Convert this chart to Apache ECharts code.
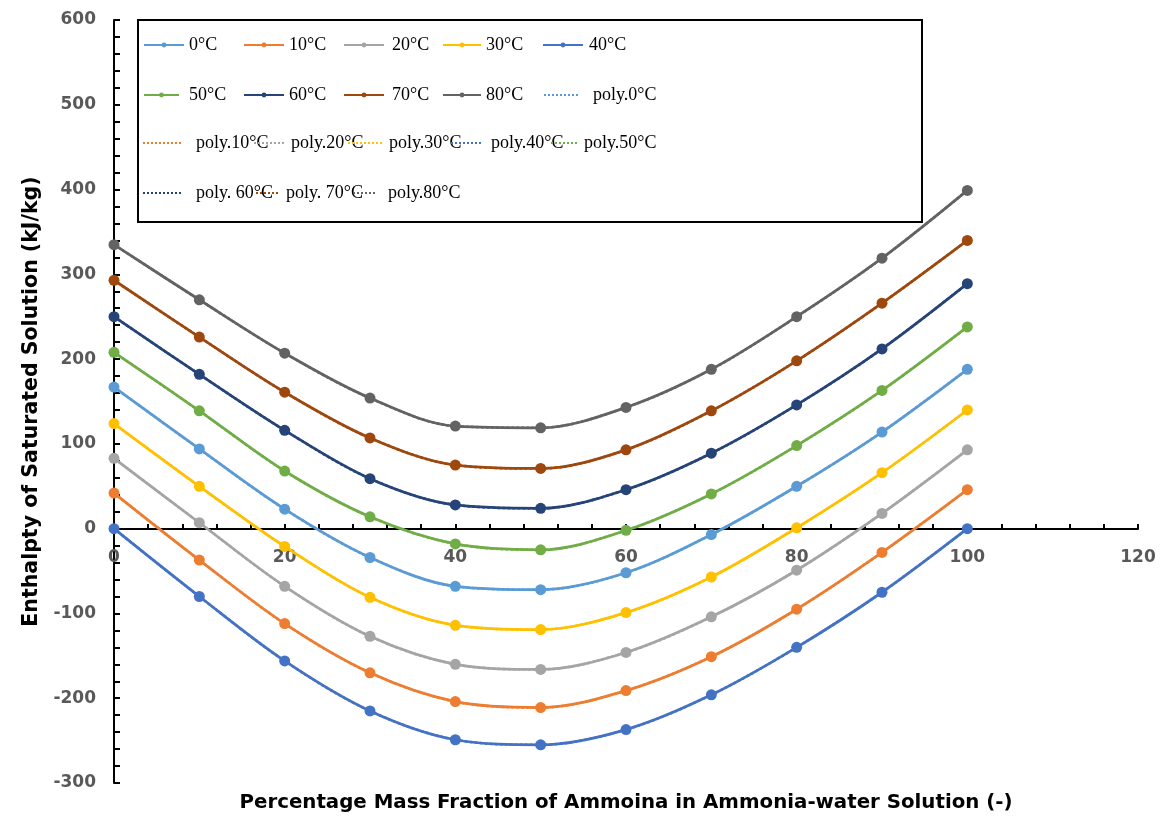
<!DOCTYPE html>
<html>
<head>
<meta charset="utf-8">
<script src="https://cdn.jsdelivr.net/npm/echarts@6/dist/echarts.min.js"></script>
<style>
html,body{margin:0;padding:0;background:#fff;}
#chart{width:1161px;height:818px;}
</style>
</head>
<body>
<div id="chart"></div>
<script>
// ---- data ----
const massFraction = [0, 10, 20, 30, 40, 50, 60, 70, 80, 90, 100];
const seriesNames = ['0°C', '10°C', '20°C', '30°C', '40°C', '50°C', '60°C', '70°C', '80°C'];
const polyNames = ['poly.0°C', 'poly.10°C', 'poly.20°C', 'poly.30°C', 'poly.40°C', 'poly.50°C', 'poly. 60°C', 'poly. 70°C', 'poly.80°C'];
const h0  = [167, 94, 23, -34, -68, -72, -52, -7, 50, 114, 188];
const h10 = [42, -37, -112, -170, -204, -211, -191, -151, -95, -28, 46];
const h20 = [83, 7, -68, -127, -160, -166, -146, -104, -49, 18, 93];
const h30 = [124, 50, -21, -81, -114, -119, -99, -57, 1, 66, 140];
const h40 = [0, -80, -156, -215, -249, -255, -237, -196, -140, -75, 0];
const h50 = [208, 139, 68, 14, -18, -25, -2, 41, 98, 163, 238];
const h60 = [250, 182, 116, 59, 28, 24, 46, 89, 146, 212, 289];
const h70 = [293, 226, 161, 107, 75, 71, 93, 139, 198, 266, 340];
const h80 = [335, 270, 207, 154, 121, 119, 143, 188, 250, 319, 399];
const allValues = [h0, h10, h20, h30, h40, h50, h60, h70, h80];
const xTicks = [0, 20, 40, 60, 80, 100, 120];
const yTicks = [-300, -200, -100, 0, 100, 200, 300, 400, 500, 600];

// ---- styles ----
const colors = ['#5B9BD5', '#ED7D31', '#A5A5A5', '#FFC000', '#4472C4', '#70AD47', '#264478', '#9E480E', '#636363'];

// legend layout: [left, centerY, iconWidth, textLeft]
const legendLayout = [
  [143, 45, 40, 188], [243, 45, 40, 288], [343, 45, 40, 391], [442, 45, 38, 485], [542, 45, 40, 588],
  [143, 95, 35, 188], [243, 95, 40, 288], [343, 95, 40, 391], [442, 95, 38, 485], [543, 95, 36, 592],
  [142, 143, 40, 195], [253, 143, 30, 290], [347, 143, 35, 388], [450, 143, 30, 490], [550, 143, 28, 583],
  [142, 193, 40, 195], [255, 193, 22, 285], [352, 193, 23, 387]
];
const legendNames = seriesNames.concat(polyNames);

const pairs = v => massFraction.map((x, i) => [x, v[i]]);

const series = [];
seriesNames.forEach((n, i) => {
  series.push({
    name: n, type: 'line', data: pairs(allValues[i]), smooth: 0.33,
    symbol: 'circle', symbolSize: 11, color: colors[i],
    lineStyle: { width: 2.75, color: colors[i] },
    itemStyle: { color: colors[i] }, z: 2
  });
});
polyNames.forEach((n, i) => {
  series.push({
    name: n, type: 'line', data: pairs(allValues[i]), smooth: 0.33,
    symbol: 'none', showSymbol: false, color: colors[i],
    lineStyle: { width: 2.5, type: 'dotted', color: colors[i] },
    itemStyle: { color: colors[i] }, z: 3
  });
});

const legends = legendNames.map((n, i) => {
  const L = legendLayout[i];
  const isPoly = i >= seriesNames.length;
  const lg = {
    data: [n], left: L[0], top: L[1] - 10, itemWidth: L[2], itemHeight: 6, itemGap: 0,
    selectedMode: false, padding: 0,
    textStyle: { fontFamily: 'Liberation Serif', fontSize: 18, color: '#000', lineHeight: 20,
                 padding: [0, 0, 0, Math.max(0, L[3] - (L[0] + L[2] + 5))] }
  };
  if (isPoly) lg.itemStyle = { opacity: 0 };
  return lg;
});

const labelFont = { fontFamily: 'DejaVu Sans', fontWeight: 'bold', fontSize: 17, color: '#595959' };
const xNameFont = { fontFamily: 'DejaVu Sans', fontWeight: 'bold', fontSize: 19.8, color: '#000' };
const yNameFont = { fontFamily: 'DejaVu Sans', fontWeight: 'bold', fontSize: 20.5, color: '#000' };

const chart = echarts.init(document.getElementById('chart'), null, { renderer: 'canvas' });
chart.setOption({
  animation: false,
  backgroundColor: '#fff',
  grid: { left: 114, right: 23, top: 20, bottom: 35, containLabel: false, outerBoundsMode: 'none' },
  legend: legends,
  graphic: [{
    type: 'rect', shape: { x: 138, y: 20, width: 784, height: 202 },
    style: { fill: 'rgba(0,0,0,0)', stroke: '#000', lineWidth: 2 }, z: 10
  }],
  xAxis: {
    type: 'value', min: xTicks[0], max: xTicks[xTicks.length - 1], interval: 20,
    offset: -254,
    name: 'Percentage Mass Fraction of Ammoina in Ammonia-water Solution (-)',
    nameLocation: 'middle', nameGap: 264, nameTextStyle: xNameFont,
    axisLine: { onZero: false, lineStyle: { color: '#000', width: 2 } },
    axisTick: { inside: true, length: 5, lineStyle: { color: '#000', width: 2 } },
    minorTick: { show: true, splitNumber: 5, length: 5, lineStyle: { color: '#000', width: 2 } },
    axisLabel: Object.assign({ margin: 20 }, labelFont),
    splitLine: { show: false }
  },
  yAxis: {
    type: 'value', min: yTicks[0], max: yTicks[yTicks.length - 1], interval: 100,
    name: 'Enthalpty of Saturated Solution (kJ/kg)',
    nameLocation: 'middle', nameGap: 70, nameTextStyle: yNameFont,
    axisLine: { show: true, onZero: false, lineStyle: { color: '#000', width: 2 } },
    axisTick: { show: true, inside: true, length: 6, lineStyle: { color: '#000', width: 2 } },
    minorTick: { show: true, splitNumber: 5, length: 6, lineStyle: { color: '#000', width: 2 } },
    axisLabel: Object.assign({ margin: 18 }, labelFont),
    splitLine: { show: false }
  },
  series: series
});
</script>
</body>
</html>
